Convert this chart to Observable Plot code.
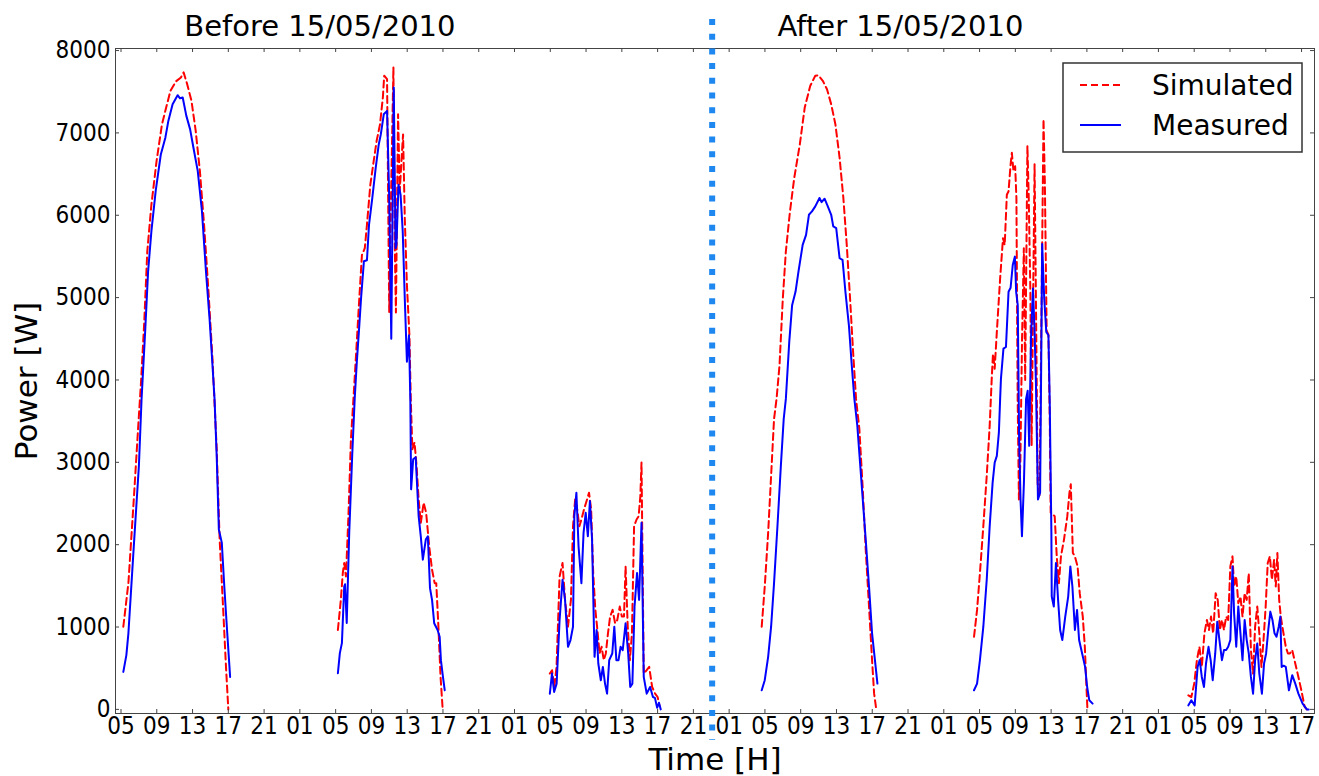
<!DOCTYPE html>
<html><head><meta charset="utf-8">
<script src="https://cdn.jsdelivr.net/npm/d3@7"></script>
<script src="https://cdn.jsdelivr.net/npm/@observablehq/plot@0.6"></script>
<style>
html,body{margin:0;padding:0;background:#fff;}
#wrap{position:relative;width:1319px;height:776px;}
#legend{position:absolute;left:1062px;top:62px;}
</style></head><body><div id="wrap"></div>
<script>
// ---- data: x = hours since 00:00 of the first day, y = power [W] ----
const simDay1 = [[5.26,1004],[5.83,1537],[6.43,2550],[7.0,3566],[7.24,3975],[7.6,4707],[7.94,5563],[8.4,6128],[8.98,6661],[9.58,7104],[10.05,7308],[10.53,7511],[11.14,7625],[11.7,7674],[12.0,7735],[12.4,7592],[12.88,7390],[13.35,7027],[13.82,6539],[14.29,5884],[14.76,5112],[15.23,4258],[15.7,3160],[16.03,2062],[16.41,1248],[16.74,516],[17.0,0]];
const measDay1 = [[5.26,455],[5.6,659],[5.83,927],[6.43,1980],[7.0,2956],[7.3,3770],[7.7,4585],[8.03,5319],[8.4,5807],[8.88,6295],[9.45,6738],[9.96,6942],[10.3,7149],[10.77,7348],[11.33,7458],[11.6,7420],[11.9,7430],[12.3,7210],[12.73,7043],[13.1,6820],[13.58,6539],[14.05,6051],[14.5,5319],[14.9,4746],[15.23,4176],[15.46,3770],[15.7,3078],[15.94,2184],[16.27,2025],[16.55,1492],[16.88,927],[17.2,394]];
const simDay2 = [[29.25,964],[29.58,1330],[29.8,1655],[29.96,1777],[30.15,1614],[30.43,2346],[30.71,3282],[30.99,3770],[31.32,4380],[31.6,4908],[31.94,5518],[32.26,5600],[32.5,5884],[32.88,6372],[33.2,6616],[33.58,6901],[33.96,7104],[34.28,7430],[34.43,7694],[34.75,7653],[34.99,4819],[35.22,6372],[35.46,7796],[35.6,5722],[35.74,4819],[35.98,7226],[36.17,6295],[36.4,6738],[36.54,6982],[36.73,5966],[36.97,5152],[37.25,4542],[37.4,3770],[37.58,3160],[37.82,3241],[38.05,2956],[38.28,2550],[38.52,2265],[38.84,2509],[39.12,2387],[39.46,1980],[39.78,1696],[40.07,1533],[40.25,1533],[40.49,1004],[40.73,394],[40.97,0]];
const measDay2 = [[29.25,439],[29.47,683],[29.7,805],[29.96,1492],[30.05,1520],[30.24,1049],[30.52,2147],[30.85,3078],[31.13,3770],[31.37,4221],[31.6,4587],[31.84,4990],[32.16,5441],[32.5,5453],[32.73,5884],[33.1,6210],[33.48,6576],[33.82,6860],[34.05,6982],[34.38,7226],[34.75,7267],[34.99,6210],[35.22,4502],[35.5,7552],[35.7,5600],[35.8,5640],[36.03,6372],[36.26,6250],[36.5,5807],[36.73,4990],[36.97,4221],[37.2,4542],[37.35,3770],[37.44,2672],[37.67,3038],[37.95,3062],[38.28,2346],[38.52,2102],[38.75,1818],[39.08,2062],[39.31,2102],[39.55,1472],[39.78,1330],[40.02,1046],[40.4,964],[40.63,882],[40.77,598],[41.0,394],[41.2,232]];
const simDay3 = [[52.95,435],[53.2,476],[53.45,272],[53.7,516],[54.04,1614],[54.37,1777],[54.65,1330],[54.98,1004],[55.31,1330],[55.54,2224],[55.78,2550],[56.01,2428],[56.25,2224],[56.48,2306],[56.77,2428],[57.0,2509],[57.33,2631],[57.57,2428],[57.8,1655],[58.04,1208],[58.27,964],[58.51,679],[58.74,760],[58.98,598],[59.21,679],[59.45,923],[59.69,1127],[59.97,1208],[60.25,1045],[60.49,1086],[60.77,1248],[61.0,1127],[61.24,1127],[61.42,1736],[61.66,1004],[61.9,598],[62.13,923],[62.37,2224],[62.65,2306],[62.88,2346],[63.07,2590],[63.2,2997],[63.45,435],[63.78,476],[64.06,516],[64.39,272],[64.72,191],[65.0,150],[65.2,50]];
const measDay3 = [[52.95,191],[53.19,435],[53.43,211],[53.71,313],[54.04,1086],[54.37,1574],[54.65,1330],[54.98,760],[55.26,842],[55.54,1004],[55.69,2346],[55.92,2631],[56.16,1980],[56.48,1533],[56.72,2143],[56.96,2387],[57.2,2102],[57.43,2529],[57.67,2062],[57.95,638],[58.18,964],[58.37,557],[58.65,354],[58.88,516],[59.12,313],[59.35,191],[59.59,598],[59.93,679],[60.16,1004],[60.39,598],[60.63,598],[60.86,760],[61.1,720],[61.42,1045],[61.71,679],[61.94,272],[62.18,313],[62.42,1248],[62.7,1655],[62.93,1330],[63.2,2265],[63.45,394],[63.78,191],[64.16,272],[64.48,150],[64.7,140],[64.95,20],[65.15,80],[65.35,0]];
const simDay4 = [[76.64,1004],[76.98,1492],[77.36,2143],[77.69,2834],[78.02,3526],[78.3,3770],[78.63,4176],[79.0,4990],[79.34,5560],[79.8,6047],[80.28,6454],[80.9,6860],[81.45,7308],[82.07,7572],[82.63,7694],[82.97,7700],[83.47,7633],[83.94,7531],[84.41,7348],[84.88,7104],[85.35,6698],[85.77,6210],[86.15,5640],[86.52,4990],[86.86,4340],[87.19,3770],[87.56,3404],[87.94,2672],[88.27,1940],[88.64,1248],[88.98,598],[89.21,191],[89.45,0]];
const measDay4 = [[76.64,232],[76.98,354],[77.36,638],[77.69,1004],[78.02,1533],[78.4,2224],[78.78,2956],[79.1,3526],[79.34,3770],[79.72,4462],[80.04,4908],[80.42,5071],[80.75,5315],[81.22,5640],[81.6,5762],[81.92,6006],[82.26,6047],[82.63,6108],[83.1,6210],[83.33,6160],[83.67,6201],[84.03,6108],[84.41,6006],[84.64,5865],[84.97,5844],[85.35,5478],[85.68,5457],[86.0,5071],[86.39,4664],[86.71,4176],[87.0,3770],[87.33,3444],[87.8,2754],[88.27,2062],[88.64,1492],[88.98,923],[89.3,598],[89.58,313]];
const simDay5 = [[100.38,882],[100.72,1208],[101.04,1655],[101.42,2224],[101.8,2834],[102.13,3444],[102.36,4014],[102.5,4319],[102.69,4136],[102.93,4584],[103.3,5234],[103.62,5722],[103.81,5640],[104.05,6250],[104.24,6291],[104.47,6616],[104.61,6758],[104.79,6535],[104.98,6596],[105.12,6210],[105.26,3770],[105.4,2550],[105.56,3000],[105.75,4500],[105.95,5600],[106.1,4000],[106.35,6840],[106.5,6210],[106.68,5070],[106.82,3200],[106.97,4800],[107.15,6620],[107.3,5000],[107.5,2700],[107.7,2600],[107.92,4800],[108.15,7165],[108.3,6400],[108.5,4600],[108.7,4550],[108.85,3500],[108.95,2390],[109.4,2346],[109.63,1858],[109.87,1533],[110.1,1858],[110.44,2062],[110.81,2346],[111.05,2631],[111.2,2733],[111.43,1900],[111.66,1858],[111.96,1736],[112.2,1411],[112.54,1127],[112.77,760],[112.92,354],[113.06,0]];
const measDay5 = [[100.38,232],[100.72,313],[101.04,598],[101.42,1004],[101.8,1574],[102.13,2224],[102.46,2754],[102.69,2997],[102.93,3078],[103.16,3363],[103.3,3770],[103.39,4014],[103.67,4380],[103.95,4400],[104.24,5071],[104.47,5120],[104.71,5396],[104.95,5498],[105.09,5071],[105.27,4908],[105.42,3300],[105.58,2550],[105.74,2102],[105.96,2754],[106.2,3770],[106.38,3870],[106.55,3200],[106.75,4500],[106.97,5110],[107.15,4600],[107.3,3970],[107.53,2550],[107.77,2630],[107.9,4300],[108.0,5650],[108.23,4990],[108.46,4584],[108.7,4542],[108.85,3700],[109.03,2143],[109.07,1370],[109.3,1248],[109.54,1777],[109.78,1330],[110.01,964],[110.25,842],[110.58,1127],[110.91,1370],[111.15,1736],[111.38,1492],[111.66,964],[111.9,1208],[112.13,842],[112.47,679],[112.8,516],[113.03,272],[113.27,110],[113.64,70]];
const simDay6 = [[124.35,171],[124.68,150],[125.0,313],[125.3,598],[125.58,760],[125.85,516],[126.14,923],[126.42,1086],[126.65,964],[126.88,1127],[127.12,923],[127.4,1411],[127.63,1330],[127.87,964],[128.1,1086],[128.33,964],[128.57,1127],[128.8,1086],[129.04,1736],[129.28,1858],[129.46,1492],[129.7,1614],[129.93,1290],[130.17,1370],[130.4,1127],[130.64,1411],[130.87,1330],[131.1,1655],[131.34,720],[131.58,435],[131.81,1004],[132.05,1248],[132.28,923],[132.52,516],[132.75,842],[132.99,1248],[133.22,1777],[133.46,1858],[133.69,1574],[133.93,1817],[134.12,1492],[134.3,1899],[134.5,1330],[134.68,1127],[134.92,964],[135.24,760],[135.48,679],[135.7,679],[135.96,720],[136.3,557],[136.65,394],[136.98,232],[137.35,30],[137.59,0]];
const measDay6 = [[124.35,49],[124.68,110],[125.05,49],[125.38,516],[125.61,598],[125.85,394],[126.09,272],[126.32,557],[126.6,760],[126.84,598],[127.07,354],[127.35,679],[127.58,1065],[127.82,842],[128.1,598],[128.33,720],[128.57,720],[128.8,760],[129.04,842],[129.28,1736],[129.46,1167],[129.7,760],[129.93,1248],[130.17,923],[130.4,598],[130.64,1086],[130.87,842],[131.1,679],[131.34,394],[131.58,191],[131.81,598],[132.05,801],[132.28,435],[132.57,191],[132.81,557],[133.04,679],[133.28,964],[133.51,1187],[133.75,1086],[133.98,923],[134.2,882],[134.45,1004],[134.63,1127],[134.78,516],[135.0,530],[135.24,516],[135.59,232],[135.96,415],[136.3,313],[136.65,191],[137.12,70],[137.59,0],[137.8,0]];

const xTicks = d3.range(5, 138, 4);          // 05, 09, 13, 17, 21, 01 ...
const yTicks = d3.range(0, 8001, 1000);
const xDomain = [4.385, 138.45];
const yDomain = [-50, 8025];
const splitHour = 71.1;                       // 15/05/2010 divider
const periodLabels = ["Before 15/05/2010", "After 15/05/2010"];
const periodHours = [27.24, 92.15];
const seriesNames = ["Simulated", "Measured"];

// ---- build tables ----
const toRows = (days) => days.flatMap((d, i) => d.map(([hour, power]) => ({hour, power, day: i})));
const simRows = toRows([simDay1, simDay2, simDay3, simDay4, simDay5, simDay6]);
const measRows = toRows([measDay1, measDay2, measDay3, measDay4, measDay5, measDay6]);

const width = 1319, height = 776;
const mL = 115, mR = 5, mT = 48, mB = 63;
const frameW = width - mL - mR, frameH = height - mT - mB;
const tickLen = 4;
const fmtHour = (d) => String(d % 24).padStart(2, "0");
const tickFont = '"DejaVu Sans Condensed", "DejaVu Sans", sans-serif';
const labelFont = '"DejaVu Sans", sans-serif';

const chart = Plot.plot({
  width, height,
  marginLeft: mL, marginRight: mR, marginTop: mT, marginBottom: mB,
  style: {fontFamily: tickFont, fontSize: "24px", background: "white", color: "black", overflow: "visible"},
  x: {domain: xDomain, axis: null},
  y: {domain: yDomain, axis: null},
  marks: [
    Plot.line(simRows, {x: "hour", y: "power", z: "day", stroke: "#ff0000", strokeWidth: 2, strokeDasharray: "7,4"}),
    Plot.line(measRows, {x: "hour", y: "power", z: "day", stroke: "#0000ff", strokeWidth: 2}),
    Plot.frame({stroke: "#444", strokeWidth: 1}),
    Plot.tickX(xTicks, {x: (d) => d, insetTop: frameH - tickLen, stroke: "#444"}),
    Plot.tickX(xTicks, {x: (d) => d, insetBottom: frameH - tickLen, stroke: "#444"}),
    Plot.tickY(yTicks, {y: (d) => d, insetRight: frameW - tickLen, stroke: "#444"}),
    Plot.tickY(yTicks, {y: (d) => d, insetLeft: frameW - tickLen, stroke: "#444"}),
    Plot.axisX(xTicks, {tickSize: 0, tickPadding: 3, tickFormat: fmtHour, fontSize: 24, label: null}),
    Plot.axisY(yTicks, {tickSize: 0, tickPadding: 5, tickFormat: (d) => String(d), fontSize: 24, label: null}),
    Plot.ruleX([splitHour], {stroke: "#1e88f0", strokeWidth: 6, strokeDasharray: "6,8.7", insetTop: -29, insetBottom: -27}),
    Plot.text(periodLabels, {x: periodHours, frameAnchor: "top", lineAnchor: "middle", textAnchor: "middle", dy: -22, fontSize: 29, fontFamily: labelFont, fill: "black"}),
    Plot.text(["Power [W]"], {frameAnchor: "left", rotate: -90, textAnchor: "middle", lineAnchor: "middle", dx: -88, fontSize: 31, fontFamily: labelFont, fill: "black"}),
    Plot.text(["Time [H]"], {frameAnchor: "bottom", lineAnchor: "top", textAnchor: "middle", dy: 34, fontSize: 31, fontFamily: labelFont, fill: "black"})
  ]
});
const wrap = document.getElementById("wrap");
wrap.appendChild(chart);

// ---- legend (inside the plot area, top right) ----
const leg = d3.select(wrap).append("svg").attr("id", "legend")
  .attr("width", 242).attr("height", 92);
leg.append("rect").attr("x", 1).attr("y", 1).attr("width", 239).attr("height", 89)
  .attr("fill", "white").attr("stroke", "#333").attr("stroke-width", 1.5);
const legendStyles = [
  {stroke: "#ff0000", dash: "7,4"},
  {stroke: "#0000ff", dash: null}
];
seriesNames.forEach((name, i) => {
  const cy = 23 + i * 40;
  leg.append("line").attr("x1", 18).attr("x2", 59).attr("y1", cy).attr("y2", cy)
    .attr("stroke", legendStyles[i].stroke).attr("stroke-width", 2)
    .attr("stroke-dasharray", legendStyles[i].dash);
  leg.append("text").attr("x", 90).attr("y", cy + 10)
    .attr("font-family", labelFont).attr("font-size", 28).attr("fill", "black").text(name);
});
</script></body></html>
